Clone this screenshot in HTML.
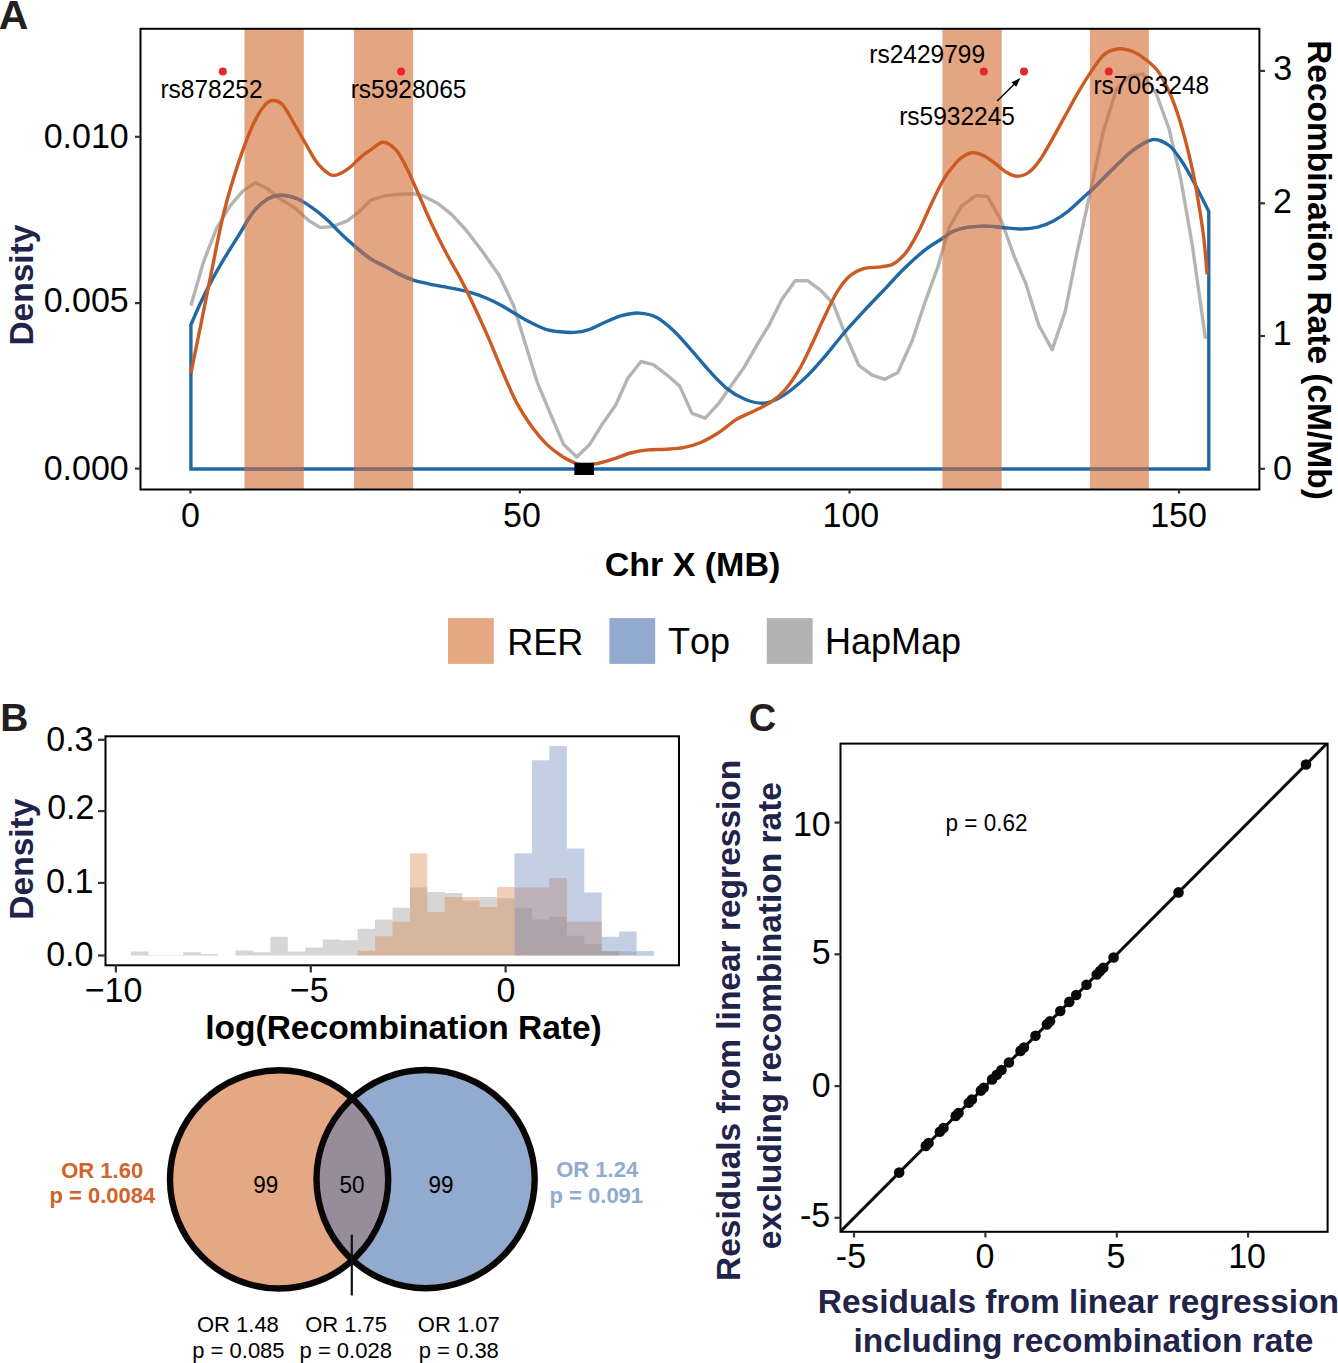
<!DOCTYPE html><html><head><meta charset="utf-8"><title>Figure</title><style>html,body{margin:0;padding:0;background:#fff;}svg{display:block;}text{font-kerning:none;font-family:"Liberation Sans",sans-serif;}</style></head><body>
<svg width="1338" height="1363" viewBox="0 0 1338 1363">
<rect width="1338" height="1363" fill="#fff"/>
<defs><clipPath id="clipA"><rect x="140.5" y="28.8" width="1118.9" height="460.7"/></clipPath></defs>
<g clip-path="url(#clipA)">
<path d="M190.9,305.8 L203.5,261.8 L216.7,228.1 L229.9,206.1 L243.0,190.8 L255.4,182.6 L268.0,189.1 L279.7,198.8 L294.4,207.6 L309.0,220.8 L320.2,227.5 L332.5,226.6 L347.2,220.8 L358.9,212.0 L370.6,200.2 L384.7,195.8 L399.3,194.4 L414.0,193.8 L422.8,195.8 L437.4,203.2 L452.1,214.9 L466.8,231.0 L481.4,250.1 L499.0,275.0 L513.7,305.8 L525.4,343.9 L537.2,382.1 L551.8,417.2 L563.7,444.6 L576.7,456.9 L589.9,444.2 L602.3,424.0 L615.5,405.5 L627.8,378.2 L641.0,361.5 L653.3,364.6 L665.6,373.8 L679.7,386.1 L692.0,413.4 L705.2,418.2 L718.5,403.7 L729.0,388.8 L744.0,367.6 L758.2,342.8 L769.5,324.3 L781.8,299.6 L795.2,280.7 L807.5,280.7 L820.8,290.4 L833.2,303.7 L844.5,332.5 L858.8,365.3 L872.2,375.2 L884.9,379.3 L897.8,372.5 L912.2,340.7 L924.5,303.7 L937.9,266.8 L949.0,227.7 L961.8,205.9 L975.9,195.6 L987.5,196.4 L1001.6,221.3 L1014.5,257.2 L1026.0,284.2 L1038.8,325.2 L1052.2,349.6 L1065.3,311.1 L1077.4,250.8 L1091.5,186.6 L1103.1,132.3 L1116.3,89.4 L1129.5,76.2 L1142.7,73.9 L1155.9,92.7 L1169.1,129.0 L1180.7,178.6 L1192.2,244.6 L1205.5,338.7" fill="none" stroke="#B4B4B4" stroke-width="3.4" stroke-linejoin="round"/>
<path d="M190.9,469.0 L190.9,324.9  C192.5,321.2 196.9,310.5 200.5,302.9 C204.1,295.3 208.4,286.7 212.3,279.4 C216.2,272.1 219.6,266.2 224.0,258.9 C228.4,251.6 233.8,243.2 238.7,235.4 C243.6,227.6 248.4,218.1 253.3,212.0 C258.2,205.9 263.4,201.6 268.0,198.8 C272.6,196.0 276.3,195.2 281.2,195.2 C286.1,195.2 292.2,196.7 297.3,198.8 C302.4,200.9 307.1,204.2 312.0,207.6 C316.9,211.0 321.7,214.9 326.6,219.3 C331.5,223.7 336.4,229.3 341.3,234.0 C346.2,238.7 351.1,243.0 356.0,247.2 C360.9,251.3 365.8,255.7 370.6,258.9 C375.4,262.1 379.9,263.7 384.7,266.2 C389.5,268.7 394.4,271.8 399.3,274.1 C404.2,276.5 409.1,278.7 414.0,280.3 C418.9,281.9 423.8,282.7 428.7,283.8 C433.6,284.9 438.4,285.8 443.3,286.7 C448.2,287.6 453.1,288.3 458.0,289.4 C462.9,290.5 467.7,291.7 472.6,293.2 C477.5,294.7 482.4,296.4 487.3,298.5 C492.2,300.6 497.1,303.1 502.0,305.8 C506.9,308.5 511.7,311.8 516.6,314.6 C521.5,317.4 526.4,320.4 531.3,322.8 C536.2,325.2 541.2,327.8 546.0,329.3 C550.8,330.8 555.3,331.3 560.0,331.8 C564.7,332.3 569.4,332.7 574.1,332.4 C578.8,332.1 583.2,331.4 588.2,329.8 C593.2,328.2 598.4,325.1 604.0,322.7 C609.6,320.3 615.7,317.3 621.6,315.7 C627.5,314.1 633.3,312.8 639.2,313.1 C645.1,313.4 650.9,314.4 656.8,317.5 C662.7,320.6 668.5,325.9 674.4,331.5 C680.3,337.1 686.1,344.3 692.0,350.9 C697.9,357.5 703.7,364.9 709.6,371.2 C715.5,377.5 721.4,384.1 727.3,388.8 C733.2,393.5 739.1,396.9 744.9,399.3 C750.7,401.7 757.0,403.3 762.3,403.3 C767.6,403.3 771.9,401.4 776.7,399.2 C781.5,397.0 786.0,393.9 791.1,390.0 C796.2,386.1 801.7,381.4 807.5,375.6 C813.3,369.8 819.8,362.3 826.0,355.1 C832.2,347.9 838.0,340.0 844.5,332.5 C851.0,325.0 858.2,317.3 865.0,309.9 C871.8,302.5 879.0,295.1 885.5,288.3 C892.0,281.5 897.5,275.1 904.0,268.8 C910.5,262.5 918.0,255.4 924.5,250.3 C931.0,245.2 938.3,241.1 943.0,238.0 C947.7,234.9 949.0,233.2 952.8,231.5 C956.6,229.8 961.4,228.5 965.7,227.7 C970.0,226.8 974.2,226.6 978.5,226.4 C982.8,226.2 987.0,226.2 991.3,226.4 C995.6,226.6 999.1,227.3 1004.2,227.7 C1009.4,228.1 1016.6,229.1 1022.2,229.0 C1027.8,228.9 1032.5,228.5 1037.6,227.2 C1042.7,225.9 1047.9,224.0 1053.0,221.3 C1058.1,218.6 1063.3,215.1 1068.4,211.0 C1073.5,206.9 1079.7,200.7 1083.8,196.9 C1087.9,193.2 1088.3,193.2 1093.2,188.5 C1098.1,183.8 1106.4,175.0 1113.0,168.7 C1119.6,162.4 1126.2,155.3 1132.8,150.5 C1139.4,145.7 1146.5,140.4 1152.6,139.6 C1158.6,138.8 1164.1,141.8 1169.1,145.5 C1174.0,149.2 1177.9,155.4 1182.3,162.0 C1186.7,168.6 1191.1,176.9 1195.5,185.2 C1199.9,193.5 1206.6,207.2 1208.8,211.6 L1208.8,469.0 Z" fill="none" stroke="#2169A5" stroke-width="3.4" stroke-linejoin="miter"/>
<rect x="244.5" y="28.8" width="59.3" height="460.7" fill="#D2692F" fill-opacity="0.60"/>
<rect x="354.0" y="28.8" width="59.1" height="460.7" fill="#D2692F" fill-opacity="0.60"/>
<rect x="942.4" y="28.8" width="59.3" height="460.7" fill="#D2692F" fill-opacity="0.60"/>
<rect x="1089.9" y="28.8" width="59.0" height="460.7" fill="#D2692F" fill-opacity="0.60"/>
<defs><clipPath id="clipBars"><rect x="244.5" y="28.8" width="59.3" height="460.7"/><rect x="354.0" y="28.8" width="59.1" height="460.7"/><rect x="942.4" y="28.8" width="59.3" height="460.7"/><rect x="1089.9" y="28.8" width="59.0" height="460.7"/></clipPath></defs>
<path d="M190.9,469.0 L190.9,324.9  C192.5,321.2 196.9,310.5 200.5,302.9 C204.1,295.3 208.4,286.7 212.3,279.4 C216.2,272.1 219.6,266.2 224.0,258.9 C228.4,251.6 233.8,243.2 238.7,235.4 C243.6,227.6 248.4,218.1 253.3,212.0 C258.2,205.9 263.4,201.6 268.0,198.8 C272.6,196.0 276.3,195.2 281.2,195.2 C286.1,195.2 292.2,196.7 297.3,198.8 C302.4,200.9 307.1,204.2 312.0,207.6 C316.9,211.0 321.7,214.9 326.6,219.3 C331.5,223.7 336.4,229.3 341.3,234.0 C346.2,238.7 351.1,243.0 356.0,247.2 C360.9,251.3 365.8,255.7 370.6,258.9 C375.4,262.1 379.9,263.7 384.7,266.2 C389.5,268.7 394.4,271.8 399.3,274.1 C404.2,276.5 409.1,278.7 414.0,280.3 C418.9,281.9 423.8,282.7 428.7,283.8 C433.6,284.9 438.4,285.8 443.3,286.7 C448.2,287.6 453.1,288.3 458.0,289.4 C462.9,290.5 467.7,291.7 472.6,293.2 C477.5,294.7 482.4,296.4 487.3,298.5 C492.2,300.6 497.1,303.1 502.0,305.8 C506.9,308.5 511.7,311.8 516.6,314.6 C521.5,317.4 526.4,320.4 531.3,322.8 C536.2,325.2 541.2,327.8 546.0,329.3 C550.8,330.8 555.3,331.3 560.0,331.8 C564.7,332.3 569.4,332.7 574.1,332.4 C578.8,332.1 583.2,331.4 588.2,329.8 C593.2,328.2 598.4,325.1 604.0,322.7 C609.6,320.3 615.7,317.3 621.6,315.7 C627.5,314.1 633.3,312.8 639.2,313.1 C645.1,313.4 650.9,314.4 656.8,317.5 C662.7,320.6 668.5,325.9 674.4,331.5 C680.3,337.1 686.1,344.3 692.0,350.9 C697.9,357.5 703.7,364.9 709.6,371.2 C715.5,377.5 721.4,384.1 727.3,388.8 C733.2,393.5 739.1,396.9 744.9,399.3 C750.7,401.7 757.0,403.3 762.3,403.3 C767.6,403.3 771.9,401.4 776.7,399.2 C781.5,397.0 786.0,393.9 791.1,390.0 C796.2,386.1 801.7,381.4 807.5,375.6 C813.3,369.8 819.8,362.3 826.0,355.1 C832.2,347.9 838.0,340.0 844.5,332.5 C851.0,325.0 858.2,317.3 865.0,309.9 C871.8,302.5 879.0,295.1 885.5,288.3 C892.0,281.5 897.5,275.1 904.0,268.8 C910.5,262.5 918.0,255.4 924.5,250.3 C931.0,245.2 938.3,241.1 943.0,238.0 C947.7,234.9 949.0,233.2 952.8,231.5 C956.6,229.8 961.4,228.5 965.7,227.7 C970.0,226.8 974.2,226.6 978.5,226.4 C982.8,226.2 987.0,226.2 991.3,226.4 C995.6,226.6 999.1,227.3 1004.2,227.7 C1009.4,228.1 1016.6,229.1 1022.2,229.0 C1027.8,228.9 1032.5,228.5 1037.6,227.2 C1042.7,225.9 1047.9,224.0 1053.0,221.3 C1058.1,218.6 1063.3,215.1 1068.4,211.0 C1073.5,206.9 1079.7,200.7 1083.8,196.9 C1087.9,193.2 1088.3,193.2 1093.2,188.5 C1098.1,183.8 1106.4,175.0 1113.0,168.7 C1119.6,162.4 1126.2,155.3 1132.8,150.5 C1139.4,145.7 1146.5,140.4 1152.6,139.6 C1158.6,138.8 1164.1,141.8 1169.1,145.5 C1174.0,149.2 1177.9,155.4 1182.3,162.0 C1186.7,168.6 1191.1,176.9 1195.5,185.2 C1199.9,193.5 1206.6,207.2 1208.8,211.6 L1208.8,469.0 Z" fill="none" stroke="#8C6D6D" stroke-width="3.4" clip-path="url(#clipBars)"/>
<path d="M190.9,373.3 C192.5,365.5 196.9,343.9 200.5,326.3 C204.1,308.7 208.4,286.8 212.3,267.7 C216.2,248.6 219.6,229.6 224.0,212.0 C228.4,194.4 233.8,176.8 238.7,162.1 C243.6,147.4 248.9,133.5 253.3,124.0 C257.7,114.5 261.7,108.8 265.0,104.9 C268.3,101.0 270.4,100.5 273.3,100.5 C276.2,100.5 279.1,101.0 282.6,104.9 C286.1,108.8 290.5,117.4 294.4,124.0 C298.3,130.6 302.2,137.9 306.1,144.5 C310.0,151.1 313.4,158.5 317.8,163.6 C322.2,168.7 327.6,174.3 332.5,175.3 C337.4,176.3 342.3,172.6 347.2,169.4 C352.1,166.2 358.0,159.4 361.8,156.2 C365.6,153.0 366.4,152.7 370.0,150.4 C373.6,148.1 378.8,142.2 383.2,142.2 C387.6,142.2 392.2,145.6 396.4,150.4 C400.5,155.2 404.2,163.1 408.1,170.9 C412.0,178.7 416.0,188.5 419.9,197.3 C423.8,206.1 427.2,214.4 431.6,223.7 C436.0,233.0 441.3,243.7 446.2,253.0 C451.1,262.3 456.5,271.1 460.9,279.4 C465.3,287.7 468.2,293.6 472.6,302.9 C477.0,312.2 482.4,323.9 487.3,335.1 C492.2,346.3 497.1,359.1 502.0,370.3 C506.9,381.6 511.7,393.3 516.6,402.6 C521.5,411.9 526.4,419.2 531.3,426.0 C536.2,432.8 541.1,438.7 546.0,443.6 C550.9,448.5 556.8,452.6 560.6,455.4 C564.4,458.1 565.7,458.6 568.8,460.1 C571.9,461.6 575.0,463.9 579.4,464.5 C583.8,465.1 589.6,464.8 595.2,463.9 C600.8,463.0 606.9,461.0 612.8,459.2 C618.7,457.4 624.5,454.6 630.4,453.0 C636.3,451.4 642.1,450.5 648.0,449.9 C653.9,449.3 659.7,449.6 665.6,449.2 C671.5,448.8 677.3,448.8 683.2,447.7 C689.1,446.6 694.9,445.0 700.8,442.5 C706.7,440.0 712.6,436.6 718.5,432.8 C724.4,429.0 730.5,423.1 736.1,419.6 C741.7,416.1 746.3,414.9 752.0,412.0 C757.7,409.1 765.0,406.0 770.5,402.3 C776.0,398.6 780.1,395.5 784.9,390.0 C789.7,384.5 794.8,376.9 799.3,369.4 C803.8,361.9 807.5,353.4 811.6,344.8 C815.7,336.2 819.8,326.7 823.9,318.1 C828.0,309.6 832.1,300.4 836.2,293.5 C840.3,286.6 844.2,281.1 848.6,277.0 C853.0,272.9 857.4,270.5 862.9,268.8 C868.4,267.1 876.3,267.7 881.4,266.8 C886.5,265.9 889.6,266.1 893.7,263.7 C897.8,261.3 902.0,257.7 906.1,252.4 C910.2,247.1 914.3,239.8 918.4,231.9 C922.5,224.0 926.6,213.8 930.7,205.2 C934.8,196.6 939.7,186.4 943.0,180.5 C946.3,174.6 947.4,173.6 950.3,169.9 C953.2,166.2 956.9,161.3 960.5,158.4 C964.1,155.5 968.2,153.1 972.1,152.7 C976.0,152.3 979.8,154.0 983.6,155.8 C987.5,157.6 991.3,160.7 995.2,163.5 C999.1,166.3 1003.2,170.4 1006.8,172.5 C1010.4,174.6 1013.4,176.3 1017.0,176.3 C1020.6,176.3 1024.8,175.3 1028.6,172.5 C1032.4,169.7 1036.0,165.5 1040.1,159.7 C1044.2,153.9 1048.7,145.3 1053.0,137.8 C1057.3,130.3 1061.5,122.4 1065.8,114.7 C1070.1,107.0 1074.3,98.9 1078.6,91.6 C1082.9,84.3 1087.2,77.3 1091.5,71.1 C1095.8,64.9 1099.7,58.1 1104.3,54.4 C1108.9,50.7 1114.2,49.3 1119.0,48.8 C1123.8,48.3 1128.3,49.7 1132.8,51.5 C1137.3,53.3 1141.6,56.1 1146.0,59.7 C1150.4,63.3 1154.8,66.3 1159.2,72.9 C1163.6,79.5 1168.6,90.0 1172.4,99.3 C1176.2,108.6 1179.0,117.4 1182.3,129.0 C1185.6,140.6 1189.4,156.0 1192.2,168.7 C1195.0,181.4 1197.0,193.4 1198.9,205.0 C1200.8,216.6 1202.4,226.4 1203.8,238.0 C1205.2,249.6 1206.5,268.2 1207.1,274.3" fill="none" stroke="#CB5B22" stroke-width="3.4"/>
<rect x="574.4" y="462.7" width="19.6" height="12.3" fill="#000"/>
<circle cx="222.8" cy="71.5" r="4" fill="#E8262B"/>
<circle cx="401.1" cy="71.5" r="4" fill="#E8262B"/>
<circle cx="983.8" cy="71.4" r="4" fill="#E8262B"/>
<circle cx="1024.0" cy="71.4" r="4" fill="#E8262B"/>
<circle cx="1108.8" cy="71.4" r="4" fill="#E8262B"/>
<line x1="997.2" y1="101" x2="1017" y2="81.5" stroke="#000" stroke-width="1.4"/>
<path d="M1020.5,78 L1011.5,82.2 L1016.2,86.8 Z" fill="#000"/>
</g>
<rect x="140.5" y="28.8" width="1118.9" height="460.7" fill="none" stroke="#000" stroke-width="2"/>
<line x1="135" y1="136.8" x2="140.5" y2="136.8" stroke="#333" stroke-width="2.2"/>
<line x1="135" y1="303.1" x2="140.5" y2="303.1" stroke="#333" stroke-width="2.2"/>
<line x1="135" y1="468.6" x2="140.5" y2="468.6" stroke="#333" stroke-width="2.2"/>
<line x1="1259.4" y1="70.9" x2="1265" y2="70.9" stroke="#333" stroke-width="2.2"/>
<line x1="1259.4" y1="203.3" x2="1265" y2="203.3" stroke="#333" stroke-width="2.2"/>
<line x1="1259.4" y1="336.0" x2="1265" y2="336.0" stroke="#333" stroke-width="2.2"/>
<line x1="1259.4" y1="468.8" x2="1265" y2="468.8" stroke="#333" stroke-width="2.2"/>
<line x1="190.4" y1="489.5" x2="190.4" y2="493.5" stroke="#333" stroke-width="2.2"/>
<line x1="519.9" y1="489.5" x2="519.9" y2="493.5" stroke="#333" stroke-width="2.2"/>
<line x1="849.5" y1="489.5" x2="849.5" y2="493.5" stroke="#333" stroke-width="2.2"/>
<line x1="1179.0" y1="489.5" x2="1179.0" y2="493.5" stroke="#333" stroke-width="2.2"/>
<rect x="448.0" y="618.1" width="45.8" height="45.8" fill="#E5A882"/>
<rect x="609.4" y="618.1" width="45.8" height="45.8" fill="#91AACD"/>
<rect x="766.8" y="618.1" width="45.8" height="45.8" fill="#B3B3B3"/>
<defs><clipPath id="clipB"><rect x="105.5" y="736.3" width="573.5" height="229.0"/></clipPath></defs>
<g clip-path="url(#clipB)">
<path d="M130.90,955.50 L130.90,951.50 L148.34,951.50 L148.34,954.90 L165.77,954.90 L165.77,954.90 L183.21,954.90 L183.21,952.20 L200.65,952.20 L200.65,954.00 L218.09,954.00 L218.09,955.50 Z M235.52,955.50 L235.52,950.40 L252.96,950.40 L252.96,952.20 L270.40,952.20 L270.40,936.70 L287.83,936.70 L287.83,951.50 L305.27,951.50 L305.27,947.50 L322.71,947.50 L322.71,939.40 L340.14,939.40 L340.14,940.30 L357.58,940.30 L357.58,928.70 L375.02,928.70 L375.02,919.50 L392.46,919.50 L392.46,907.80 L409.89,907.80 L409.89,887.60 L427.33,887.60 L427.33,891.90 L444.77,891.90 L444.77,893.00 L462.20,893.00 L462.20,900.80 L479.64,900.80 L479.64,897.00 L497.08,897.00 L497.08,898.20 L514.51,898.20 L514.51,907.80 L531.95,907.80 L531.95,919.50 L549.39,919.50 L549.39,916.80 L566.83,916.80 L566.83,935.80 L584.26,935.80 L584.26,944.10 L601.70,944.10 L601.70,951.20 L619.14,951.20 L619.14,951.20 L636.57,951.20 L636.57,955.00 L654.01,955.00 L654.01,955.50 Z " fill="#999999" fill-opacity="0.4"/>
<path d="M357.58,955.50 L357.58,950.80 L375.02,950.80 L375.02,936.30 L392.46,936.30 L392.46,921.70 L409.89,921.70 L409.89,853.30 L427.33,853.30 L427.33,912.10 L444.77,912.10 L444.77,897.00 L462.20,897.00 L462.20,897.00 L479.64,897.00 L479.64,907.10 L497.08,907.10 L497.08,887.00 L514.51,887.00 L514.51,887.60 L531.95,887.60 L531.95,887.60 L549.39,887.60 L549.39,878.00 L566.83,878.00 L566.83,921.70 L584.26,921.70 L584.26,921.70 L601.70,921.70 L601.70,951.20 L619.14,951.20 L619.14,955.50 Z " fill="#D9874E" fill-opacity="0.4"/>
<path d="M514.51,955.50 L514.51,853.30 L531.95,853.30 L531.95,760.30 L549.39,760.30 L549.39,746.10 L566.83,746.10 L566.83,848.40 L584.26,848.40 L584.26,892.60 L601.70,892.60 L601.70,936.70 L619.14,936.70 L619.14,931.60 L636.57,931.60 L636.57,951.00 L654.01,951.00 L654.01,955.50 Z " fill="#6E87B9" fill-opacity="0.4"/>
</g>
<rect x="105.5" y="736.3" width="573.5" height="229.0" fill="none" stroke="#000" stroke-width="2"/>
<line x1="98" y1="739.8" x2="105.5" y2="739.8" stroke="#333" stroke-width="2.2"/>
<line x1="98" y1="811.1" x2="105.5" y2="811.1" stroke="#333" stroke-width="2.2"/>
<line x1="98" y1="882.9" x2="105.5" y2="882.9" stroke="#333" stroke-width="2.2"/>
<line x1="98" y1="955.5" x2="105.5" y2="955.5" stroke="#333" stroke-width="2.2"/>
<line x1="115.9" y1="965.3" x2="115.9" y2="972.5" stroke="#333" stroke-width="2.2"/>
<line x1="310.8" y1="965.3" x2="310.8" y2="972.5" stroke="#333" stroke-width="2.2"/>
<line x1="505.6" y1="965.3" x2="505.6" y2="972.5" stroke="#333" stroke-width="2.2"/>
<circle cx="279.1" cy="1179.4" r="109.1" fill="#E4A884"/>
<circle cx="425.6" cy="1179.1" r="109.1" fill="#91AACD"/>
<defs><clipPath id="clipL"><circle cx="279.1" cy="1179.4" r="109.1"/></clipPath></defs>
<circle cx="425.6" cy="1179.1" r="109.1" fill="#958D9C" clip-path="url(#clipL)"/>
<circle cx="279.1" cy="1179.4" r="109.1" fill="none" stroke="#0A0606" stroke-width="6.4"/>
<circle cx="425.6" cy="1179.1" r="109.1" fill="none" stroke="#0A0606" stroke-width="6.4"/>
<line x1="351.8" y1="1234.7" x2="351.8" y2="1295.4" stroke="#111" stroke-width="2.2"/>
<defs><clipPath id="clipC"><rect x="840.5" y="743.6" width="487.1" height="488.2"/></clipPath></defs>
<g clip-path="url(#clipC)">
<line x1="827.8" y1="1244.2" x2="1353.2" y2="717.2" stroke="#0A0A0A" stroke-width="3"/>
<circle cx="899.2" cy="1172.6" r="5.3" fill="#0A0A0A"/>
<circle cx="925.8" cy="1145.9" r="5.3" fill="#0A0A0A"/>
<circle cx="928.6" cy="1143.1" r="5.3" fill="#0A0A0A"/>
<circle cx="939.8" cy="1131.8" r="5.3" fill="#0A0A0A"/>
<circle cx="943.5" cy="1128.1" r="5.3" fill="#0A0A0A"/>
<circle cx="955.7" cy="1115.9" r="5.3" fill="#0A0A0A"/>
<circle cx="958.5" cy="1113.1" r="5.3" fill="#0A0A0A"/>
<circle cx="968.8" cy="1102.8" r="5.3" fill="#0A0A0A"/>
<circle cx="971.9" cy="1099.6" r="5.3" fill="#0A0A0A"/>
<circle cx="980.9" cy="1090.6" r="5.3" fill="#0A0A0A"/>
<circle cx="983.7" cy="1087.8" r="5.3" fill="#0A0A0A"/>
<circle cx="992.1" cy="1079.4" r="5.3" fill="#0A0A0A"/>
<circle cx="996.8" cy="1074.7" r="5.3" fill="#0A0A0A"/>
<circle cx="1001.5" cy="1070.0" r="5.3" fill="#0A0A0A"/>
<circle cx="1008.9" cy="1062.5" r="5.3" fill="#0A0A0A"/>
<circle cx="1020.5" cy="1050.9" r="5.3" fill="#0A0A0A"/>
<circle cx="1023.9" cy="1047.5" r="5.3" fill="#0A0A0A"/>
<circle cx="1035.5" cy="1035.8" r="5.3" fill="#0A0A0A"/>
<circle cx="1046.9" cy="1024.4" r="5.3" fill="#0A0A0A"/>
<circle cx="1050.0" cy="1021.3" r="5.3" fill="#0A0A0A"/>
<circle cx="1060.3" cy="1011.0" r="5.3" fill="#0A0A0A"/>
<circle cx="1069.3" cy="1001.9" r="5.3" fill="#0A0A0A"/>
<circle cx="1076.2" cy="995.0" r="5.3" fill="#0A0A0A"/>
<circle cx="1086.5" cy="984.7" r="5.3" fill="#0A0A0A"/>
<circle cx="1096.7" cy="974.5" r="5.3" fill="#0A0A0A"/>
<circle cx="1100.1" cy="971.1" r="5.3" fill="#0A0A0A"/>
<circle cx="1103.3" cy="967.8" r="5.3" fill="#0A0A0A"/>
<circle cx="1113.6" cy="957.5" r="5.3" fill="#0A0A0A"/>
<circle cx="1178.5" cy="892.4" r="5.3" fill="#0A0A0A"/>
<circle cx="1306.0" cy="764.5" r="5.3" fill="#0A0A0A"/>
</g>
<rect x="840.5" y="743.6" width="487.1" height="488.2" fill="none" stroke="#000" stroke-width="2"/>
<line x1="834.5" y1="822.6" x2="840.5" y2="822.6" stroke="#333" stroke-width="2.2"/>
<line x1="834.5" y1="954.3" x2="840.5" y2="954.3" stroke="#333" stroke-width="2.2"/>
<line x1="834.5" y1="1086.1" x2="840.5" y2="1086.1" stroke="#333" stroke-width="2.2"/>
<line x1="834.5" y1="1217.8" x2="840.5" y2="1217.8" stroke="#333" stroke-width="2.2"/>
<line x1="854.0" y1="1231.8" x2="854.0" y2="1237.5" stroke="#333" stroke-width="2.2"/>
<line x1="985.4" y1="1231.8" x2="985.4" y2="1237.5" stroke="#333" stroke-width="2.2"/>
<line x1="1116.8" y1="1231.8" x2="1116.8" y2="1237.5" stroke="#333" stroke-width="2.2"/>
<line x1="1248.1" y1="1231.8" x2="1248.1" y2="1237.5" stroke="#333" stroke-width="2.2"/>
<text transform="translate(-1.30 28.70)" font-size="41" font-weight="bold" fill="#231F20">A</text>
<text transform="translate(128.75 147.85) scale(1.0000 1.0400)" font-size="34" text-anchor="end" fill="#000">0.010</text>
<text transform="translate(128.75 312.25) scale(1.0000 1.0400)" font-size="34" text-anchor="end" fill="#000">0.005</text>
<text transform="translate(128.75 480.35) scale(1.0000 1.0400)" font-size="34" text-anchor="end" fill="#000">0.000</text>
<text transform="translate(1273.15 79.62) scale(1.0000 1.0400)" font-size="34" fill="#000">3</text>
<text transform="translate(1272.95 212.80) scale(1.0000 1.0400)" font-size="34" fill="#000">2</text>
<text transform="translate(1272.80 345.20) scale(1.0000 1.0400)" font-size="34" fill="#000">1</text>
<text transform="translate(1273.00 480.10) scale(1.0000 1.0400)" font-size="34" fill="#000">0</text>
<text transform="translate(190.40 527.15) scale(1.0000 1.0400)" font-size="34" text-anchor="middle" fill="#000">0</text>
<text transform="translate(522.00 527.15) scale(1.0000 1.0400)" font-size="34" text-anchor="middle" fill="#000">50</text>
<text transform="translate(850.90 527.15) scale(1.0000 1.0400)" font-size="34" text-anchor="middle" fill="#000">100</text>
<text transform="translate(1178.50 527.15) scale(1.0000 1.0400)" font-size="34" text-anchor="middle" fill="#000">150</text>
<text transform="translate(692.50 575.80)" font-size="34" font-weight="bold" text-anchor="middle" fill="#000">Chr X (MB)</text>
<text transform="translate(33.15 285.10) rotate(-90)" font-size="33.5" font-weight="bold" text-anchor="middle" fill="#222348">Density</text>
<text transform="translate(1308.25 270.00) rotate(90)" font-size="33.5" font-weight="bold" text-anchor="middle" fill="#000">Recombination Rate (cM/Mb)</text>
<text transform="translate(160.40 98.15) scale(1.0000 1.0400)" font-size="24.5" fill="#000">rs878252</text>
<text transform="translate(350.65 98.15) scale(1.0000 1.0400)" font-size="24.5" fill="#000">rs5928065</text>
<text transform="translate(869.30 62.75) scale(1.0000 1.0400)" font-size="24.5" fill="#000">rs2429799</text>
<text transform="translate(899.20 125.20) scale(1.0000 1.0400)" font-size="24.5" fill="#000">rs5932245</text>
<text transform="translate(1093.40 94.15) scale(1.0000 1.0400)" font-size="24.5" fill="#000">rs7063248</text>
<text transform="translate(507.20 654.55) scale(1.0000 1.0400)" font-size="36" fill="#000">RER</text>
<text transform="translate(668.05 653.90) scale(1.0000 1.0400)" font-size="36" fill="#000">Top</text>
<text transform="translate(825.05 653.60) scale(1.0000 1.0400)" font-size="36" fill="#000">HapMap</text>
<text transform="translate(0.15 730.85)" font-size="39" font-weight="bold" fill="#231F20">B</text>
<text transform="translate(93.50 750.90) scale(1.0000 1.0400)" font-size="34" text-anchor="end" fill="#000">0.3</text>
<text transform="translate(94.45 819.35) scale(1.0000 1.0400)" font-size="34" text-anchor="end" fill="#000">0.2</text>
<text transform="translate(93.30 893.00) scale(1.0000 1.0400)" font-size="34" text-anchor="end" fill="#000">0.1</text>
<text transform="translate(93.45 966.35) scale(1.0000 1.0400)" font-size="34" text-anchor="end" fill="#000">0.0</text>
<text transform="translate(113.55 1001.80) scale(1.0000 1.0400)" font-size="34" text-anchor="middle" fill="#000">−10</text>
<text transform="translate(309.20 1001.80) scale(1.0000 1.0400)" font-size="34" text-anchor="middle" fill="#000">−5</text>
<text transform="translate(505.95 1001.80) scale(1.0000 1.0400)" font-size="34" text-anchor="middle" fill="#000">0</text>
<text transform="translate(403.50 1038.90)" font-size="33.5" font-weight="bold" text-anchor="middle" fill="#000">log(Recombination Rate)</text>
<text transform="translate(33.25 859.15) rotate(-90)" font-size="33.5" font-weight="bold" text-anchor="middle" fill="#222348">Density</text>
<text transform="translate(265.85 1192.85) scale(1.0000 1.0400)" font-size="22.5" text-anchor="middle" fill="#000">99</text>
<text transform="translate(351.90 1192.85) scale(1.0000 1.0400)" font-size="22.5" text-anchor="middle" fill="#000">50</text>
<text transform="translate(440.90 1192.50) scale(1.0000 1.0400)" font-size="22.5" text-anchor="middle" fill="#000">99</text>
<text transform="translate(102.20 1177.60)" font-size="22" font-weight="bold" text-anchor="middle" fill="#D0642C">OR 1.60</text>
<text transform="translate(102.30 1203.35)" font-size="22" font-weight="bold" text-anchor="middle" fill="#D0642C">p = 0.0084</text>
<text transform="translate(597.20 1177.40)" font-size="22" font-weight="bold" text-anchor="middle" fill="#91AACD">OR 1.24</text>
<text transform="translate(596.30 1202.70)" font-size="22" font-weight="bold" text-anchor="middle" fill="#91AACD">p = 0.091</text>
<text transform="translate(237.90 1331.65) scale(1.0000 1.0400)" font-size="22" text-anchor="middle" fill="#000">OR 1.48</text>
<text transform="translate(238.40 1357.55) scale(1.0000 1.0400)" font-size="22" text-anchor="middle" fill="#000">p = 0.085</text>
<text transform="translate(346.10 1331.65) scale(1.0000 1.0400)" font-size="22" text-anchor="middle" fill="#000">OR 1.75</text>
<text transform="translate(345.70 1357.55) scale(1.0000 1.0400)" font-size="22" text-anchor="middle" fill="#000">p = 0.028</text>
<text transform="translate(458.80 1331.65) scale(1.0000 1.0400)" font-size="22" text-anchor="middle" fill="#000">OR 1.07</text>
<text transform="translate(458.80 1357.55) scale(1.0000 1.0400)" font-size="22" text-anchor="middle" fill="#000">p = 0.38</text>
<text transform="translate(748.85 730.65)" font-size="38" font-weight="bold" fill="#231F20">C</text>
<text transform="translate(830.75 836.20) scale(1.0000 1.0400)" font-size="34" text-anchor="end" fill="#000">10</text>
<text transform="translate(830.65 963.55) scale(1.0000 1.0400)" font-size="34" text-anchor="end" fill="#000">5</text>
<text transform="translate(830.65 1097.45) scale(1.0000 1.0400)" font-size="34" text-anchor="end" fill="#000">0</text>
<text transform="translate(830.25 1226.85) scale(1.0000 1.0400)" font-size="34" text-anchor="end" fill="#000">-5</text>
<text transform="translate(850.95 1267.95) scale(1.0000 1.0400)" font-size="34" text-anchor="middle" fill="#000">-5</text>
<text transform="translate(984.95 1267.95) scale(1.0000 1.0400)" font-size="34" text-anchor="middle" fill="#000">0</text>
<text transform="translate(1115.95 1267.95) scale(1.0000 1.0400)" font-size="34" text-anchor="middle" fill="#000">5</text>
<text transform="translate(1247.10 1267.95) scale(1.0000 1.0400)" font-size="34" text-anchor="middle" fill="#000">10</text>
<text transform="translate(945.60 831.20) scale(1.0000 1.0400)" font-size="22.5" fill="#000">p = 0.62</text>
<text transform="translate(1078.40 1313.20)" font-size="33.5" font-weight="bold" text-anchor="middle" fill="#222348">Residuals from linear regression</text>
<text transform="translate(1083.40 1352.35)" font-size="33.5" font-weight="bold" text-anchor="middle" fill="#222348">including recombination rate</text>
<text transform="translate(740.40 1020.40) rotate(-90)" font-size="33.5" font-weight="bold" text-anchor="middle" fill="#222348">Residuals from linear regression</text>
<text transform="translate(781.00 1015.65) rotate(-90)" font-size="33.5" font-weight="bold" text-anchor="middle" fill="#222348">excluding recombination rate</text>
</svg></body></html>
